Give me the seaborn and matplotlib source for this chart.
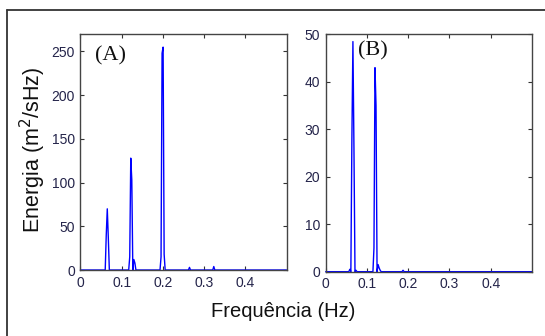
import matplotlib
matplotlib.use("Agg")
import matplotlib.pyplot as plt
import seaborn as sns
from matplotlib.lines import Line2D

# espectro (A)
freq_a = [0.0, 0.060, 0.0625, 0.065, 0.0675, 0.070,
          0.117, 0.1195, 0.122, 0.1245, 0.127, 0.1295, 0.132, 0.1345,
          0.193, 0.1955, 0.198, 0.2005, 0.203, 0.2055,
          0.262, 0.2645, 0.267, 0.321, 0.3235, 0.326, 0.5]
energy_a = [0.0, 0.0, 40.0, 70.0, 37.0, 0.0,
            0.0, 15.0, 128.0, 103.0, 0.0, 12.0, 8.0, 0.0,
            0.0, 15.0, 248.0, 255.0, 18.0, 0.0,
            0.0, 3.0, 0.0, 0.0, 4.0, 0.0, 0.0]

# espectro (B)
freq_b = [0.0, 0.056, 0.0585, 0.061, 0.0635, 0.066, 0.0685, 0.071,
          0.0735, 0.076, 0.0785,
          0.112, 0.1145, 0.117, 0.1195, 0.122, 0.1245, 0.127, 0.1295, 0.132,
          0.1345, 0.185, 0.1875, 0.190, 0.5]
energy_b = [0.0, 0.0, 0.5, 0.0, 28.0, 48.5, 26.0, 0.0,
            0.3, 0.0, 0.0,
            0.0, 0.0, 5.0, 43.0, 35.0, 0.0, 1.5, 0.8, 0.3,
            0.0, 0.0, 0.3, 0.0, 0.0]

xticks = [0, 0.1, 0.2, 0.3, 0.4]
yticks_a = [0, 50, 100, 150, 200, 250]
yticks_b = [0, 10, 20, 30, 40, 50]

sns.set_style("ticks")
plt.rcParams["font.family"] = ["Liberation Sans", "DejaVu Sans"]

fig = plt.figure(figsize=(5.45, 3.36), dpi=100)
ax_a = fig.add_axes([0.1477, 0.1964, 0.378, 0.7024])
ax_b = fig.add_axes([0.5976, 0.1914, 0.3785, 0.706])

panels = [(ax_a, freq_a, energy_a, yticks_a, 270, "(A)", 0.07, 0.95),
          (ax_b, freq_b, energy_b, yticks_b, 50, "(B)", 0.157, 0.97)]

for ax, fx, ey, yt, ytop, tag, tx, ty in panels:
    sns.lineplot(x=fx, y=ey, ax=ax, color="blue", lw=1.0, estimator=None)
    ax.lines[0].set_clip_on(False)
    ax.set_xlim(0, 0.5)
    ax.set_ylim(0, ytop)
    ax.set_xticks(xticks)
    ax.set_xticklabels(["0", "0.1", "0.2", "0.3", "0.4"])
    ax.set_yticks(yt)
    ax.tick_params(direction="in", length=3, width=0.8, top=True, right=True,
                   labelsize=10, labelcolor="#24244a", color="#333333", pad=4)
    for s in ax.spines.values():
        s.set_visible(True)
        s.set_color("#444444")
        s.set_linewidth(1.0)
    ax.text(tx, ty, tag, transform=ax.transAxes, ha="left", va="top",
            fontsize=16, family=["Liberation Serif", "DejaVu Serif"], color="#111111")

fig.text(33 / 545, 0.554, "Energia (m$^2$/sHz)", rotation=90, ha="center", va="center",
         fontsize=15.5, color="#111111")
fig.text(0.52, 0.072, "Frequência (Hz)", ha="center", va="center",
         fontsize=14.5, color="#111111")

# moldura
fig.add_artist(Line2D([7 / 545, 7 / 545], [0, 1 - 10 / 336], transform=fig.transFigure,
                      color="#333333", lw=1.3))
fig.add_artist(Line2D([7 / 545, 1], [1 - 10 / 336, 1 - 10 / 336], transform=fig.transFigure,
                      color="#333333", lw=1.3))

fig.savefig("out.png", dpi=100)
